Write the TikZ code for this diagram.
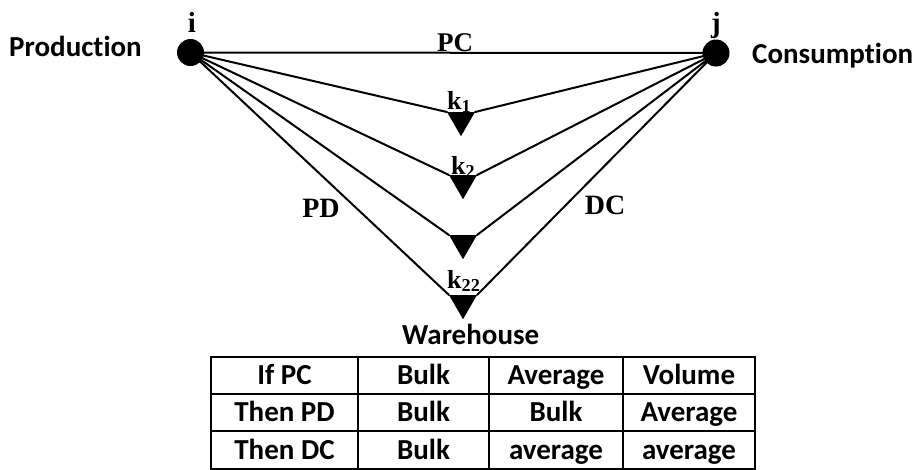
\documentclass[tikz,border=0pt]{standalone}
\usepackage{fontspec}
\setmainfont{Liberation Serif}
\newfontfamily\carfont[Ligatures=NoCommon]{Carlito}
\usetikzlibrary{shapes.geometric}
\begin{document}
\begin{tikzpicture}[x=1pt,y=-1pt,
  dot/.style={circle,fill=black,inner sep=0pt,minimum size=27pt},
  tri/.style={regular polygon,regular polygon sides=3,shape border rotate=180,fill=black,inner sep=0pt,outer sep=0pt,minimum size=32.3pt},
  edge/.style={line width=2pt,line cap=round},
  ser/.style={font=\fontsize{27}{29}\selectfont\bfseries,inner sep=0pt,anchor=base},
  serk/.style={font=\fontsize{26}{28}\selectfont\bfseries,inner sep=0pt,anchor=base west},
  san/.style={font=\carfont\fontsize{29}{31}\selectfont\bfseries,inner sep=0pt,anchor=base west},
  cell/.style={draw,line width=2pt,anchor=north west,inner sep=0pt,minimum height=37pt,
    text height=18.5pt,text depth=0pt,font=\carfont\fontsize{29}{31}\selectfont\bfseries}
]
\useasboundingbox (0,0) rectangle (920,469);
% nodes
\node[dot] (i) at (190.5,52.5) {};
\node[dot] (j) at (716,53) {};
\node[tri] (k1) at (461,120.1) {};
\node[tri] (k2) at (463,183.1) {};
\node[tri] (k3) at (463,243.1) {};
\node[tri] (k4) at (463,303.1) {};
% connectors
\draw[edge] (i.center) -- (j.center);
\foreach \k in {k1,k2,k3,k4}{
  \draw[edge] (i.center) -- (\k.corner 3);
  \draw[edge] (j.center) -- (\k.corner 2);
}
% labels
\node[ser,font=\fontsize{29}{31}\selectfont\bfseries] (li) at (192,32) {i};
\node[ser,font=\fontsize{29}{31}\selectfont\bfseries] (lj) at (716,32) {j};
\node[ser] (lpc) at (455,51) {PC};
\node[ser,font=\fontsize{28}{30}\selectfont\bfseries] (lpd) at (321,217) {PD};
\node[ser,font=\fontsize{28}{30}\selectfont\bfseries] (ldc) at (605,214) {DC};
\node[serk] (lk1) at (447,109) {k\textsubscript{1}};
\node[serk] (lk2) at (451,174) {k\textsubscript{2}};
\node[serk] (lk22) at (447,288) {k\textsubscript{22}};
\node[san] (prod) at (9,56) {Production};
\node[san] (cons) at (752,63) {Consumption};
\node[san] (ware) at (402,344) {Warehouse};
% table
\node[cell,minimum width=147pt] (c11) at (210,356) {If PC};
\node[cell,minimum width=131pt] (c12) at (357,356) {Bulk};
\node[cell,minimum width=134pt] (c13) at (488,356) {Average};
\node[cell,minimum width=132pt] (c14) at (622,356) {Volume};
\node[cell,minimum width=147pt] (c21) at (210,393) {Then PD};
\node[cell,minimum width=131pt] (c22) at (357,393) {Bulk};
\node[cell,minimum width=134pt] (c23) at (488,393) {Bulk};
\node[cell,minimum width=132pt] (c24) at (622,393) {Average};
\node[cell,minimum width=147pt,minimum height=38pt] (c31) at (210,430) {Then DC};
\node[cell,minimum width=131pt,minimum height=38pt] (c32) at (357,430) {Bulk};
\node[cell,minimum width=134pt,minimum height=38pt] (c33) at (488,430) {average};
\node[cell,minimum width=132pt,minimum height=38pt] (c34) at (622,430) {average};
\end{tikzpicture}
\end{document}
